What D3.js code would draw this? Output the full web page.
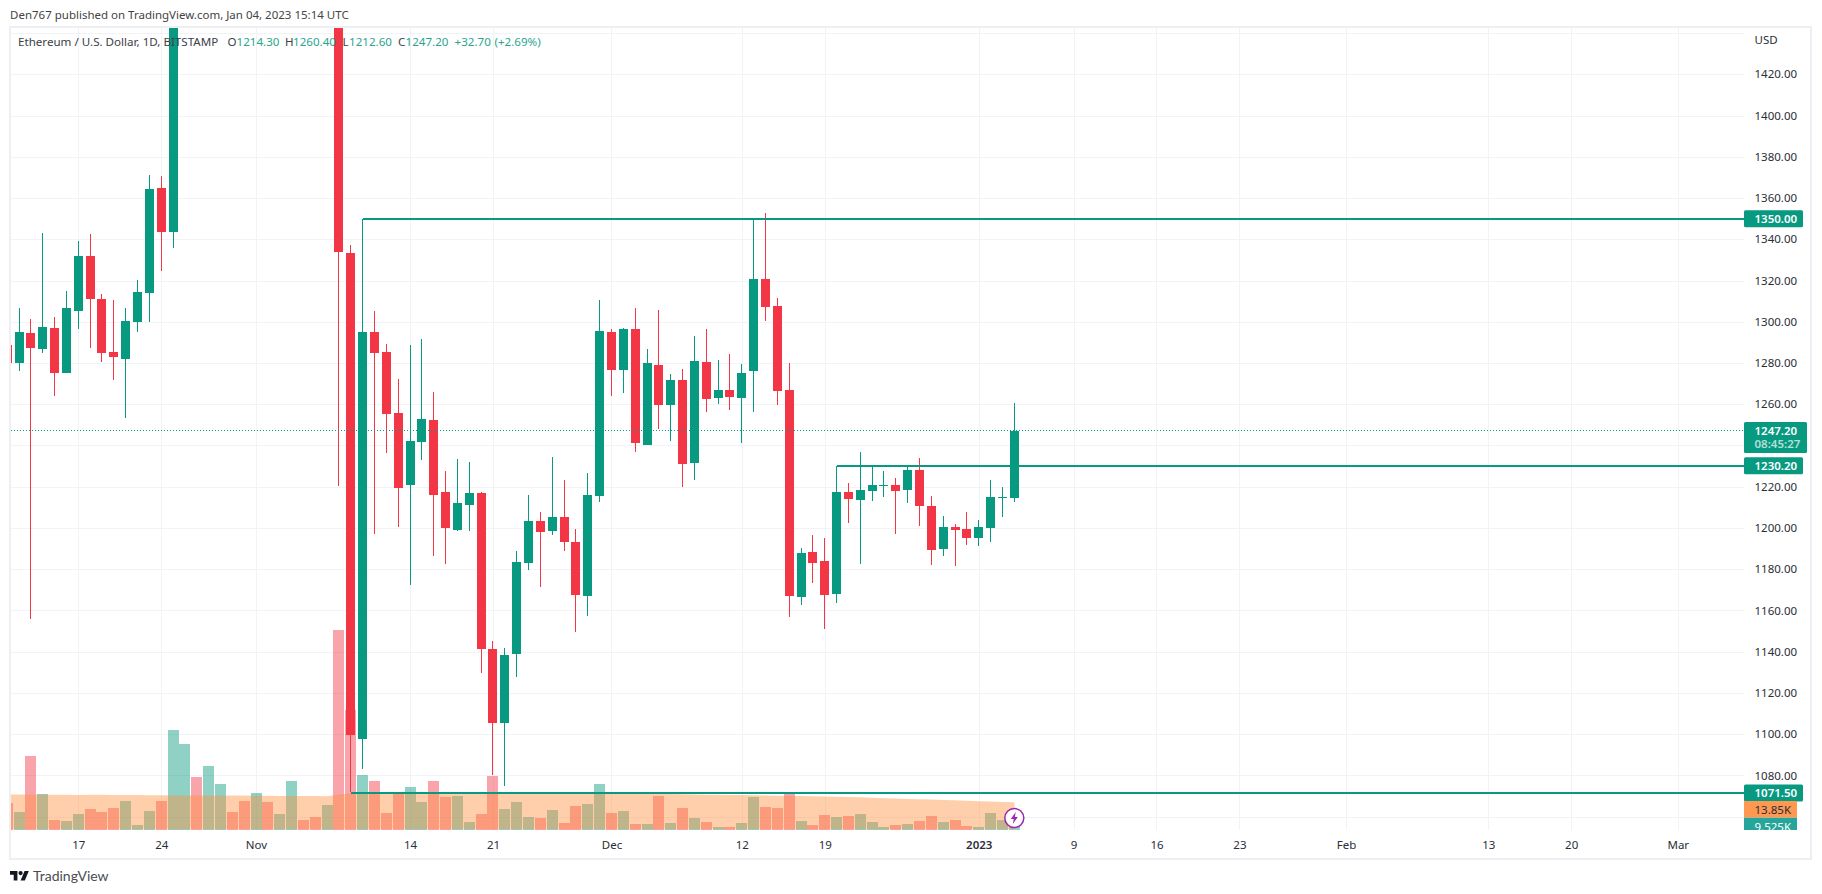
<!DOCTYPE html>
<html>
<head>
<meta charset="utf-8">
<title>ETH / USD</title>
<script src="https://cdn.jsdelivr.net/npm/d3@7/dist/d3.min.js"></script>
<style>
  html, body { margin: 0; padding: 0; background: #fff; overflow: hidden; }
  text { font-family: "Noto Sans", sans-serif; }
</style>
</head>
<body>
<div id="chart"></div>
<script>
// one entry per day, 2022-10-11 .. 2023-01-04. Days 2022-10-26 .. 2022-11-07 sit above the visible pane, rough guesses
const openPrices = [1288.7,1280,1294.5,1286.8,1297,1275.1,1305.2,1331.9,1311,1285.3,1281.9,1299.9,1314,1364.9,1343.7,1462,1566,1515,1556,1620,1590,1572,1577,1520,1628,1645,1627,1550,1568,1333.3,1097.6,1295,1285.3,1255.7,1220.8,1241.7,1252.3,1217.4,1199,1211.1,1217,1141.3,1105.4,1138.9,1183,1203.4,1198.5,1205.3,1193.2,1167,1215.5,1295,1276.6,1296.5,1240.2,1279,1259.6,1271.7,1231.5,1280.5,1263,1266.9,1263,1276.1,1320.7,1307.6,1266.9,1166.5,1188.3,1184,1168,1217.4,1213.5,1217.9,1220.3,1220.8,1218.4,1228.1,1210.6,1189.8,1200.4,1199.5,1195.1,1200,1214.5,1214.3];
const highPrices = [1289,1306.7,1301.3,1343,1302.3,1315,1339.2,1342.6,1313.4,1310.5,1306.7,1320.2,1371.2,1370.7,1530,1590,1592,1570,1630,1635,1600,1600,1590,1640,1655,1660,1640,1600,1590,1337.2,1350,1305.2,1289.2,1272.2,1288.7,1291.6,1265.9,1227.6,1233.4,1232,1217.5,1145.2,1141.8,1188.8,1216,1207.7,1234.4,1223.2,1199.5,1226.6,1310.5,1296.5,1297,1306.7,1286.8,1305.7,1274.6,1277,1293,1296.5,1281.4,1284.4,1279.5,1349.8,1352.7,1311.5,1280,1190.3,1196.6,1195.1,1230.2,1221.8,1236.8,1230.5,1227.6,1224.2,1230.5,1233.9,1215.5,1205.8,1201.9,1207.7,1203.8,1223.2,1219.9,1260.4];
const lowPrices = [1280,1276.3,1155.6,1285,1264,1275,1296.5,1287.3,1280.5,1271.7,1253.3,1295,1299.9,1324.6,1335.9,1455,1510,1500,1545,1585,1560,1560,1510,1515,1620,1620,1605,1540,1220.5,1072,1083.1,1197,1236.3,1200.4,1172.3,1233,1186.4,1182.5,1198.5,1198.5,1129.6,1080.2,1074.9,1127.7,1179.6,1171.3,1196.6,1188.8,1149.5,1157.3,1212.6,1264,1265.4,1236.8,1240.2,1248,1242.1,1219.8,1223.2,1256.2,1260.1,1257.2,1241.2,1256.2,1300.4,1259.6,1156.8,1162.6,1173.3,1151,1163.6,1202.4,1182.5,1213,1215,1197,1212,1200.9,1182,1186.4,1181.5,1191.7,1191.2,1193.2,1205.3,1212.6];
const closePrices = [1280,1295,1287.3,1297.4,1275.1,1306.7,1331.9,1311,1284.8,1282.9,1300.4,1314.4,1364.4,1343.7,1462,1566,1515,1556,1620,1590,1572,1577,1520,1628,1645,1627,1612,1568,1334,1099.6,1295,1284.8,1255.2,1219.4,1242.2,1252.8,1216,1200,1212.1,1217,1141.3,1105.4,1138.4,1183.5,1203.4,1198,1205.3,1193.2,1167.5,1216,1295.5,1276.6,1296.5,1241.2,1280,1259.6,1271.7,1231,1281,1262.5,1266.9,1263.5,1275.1,1320.7,1307.1,1266.4,1167,1187.8,1183,1167.5,1217.4,1214,1218.4,1220.8,1220.8,1217.9,1228.1,1210.6,1189.3,1200.4,1199,1195.1,1200.4,1215,1215,1247.2];
const volumes = [13.5,9.1,36.8,18,5.1,4.6,8.1,10.6,9.1,11.1,14.5,2.6,9.6,14.5,49.7,42.7,26.4,31.8,22.9,9.1,14.5,18.5,14,8.1,24.4,5.1,6.6,12.5,99,59.5,27.4,24.4,8.6,19.1,21.5,14,24.4,16.5,17,4.1,8.1,26.9,10.6,14,6.6,6.1,10.1,3.6,12,13,22.9,8.6,9.6,3.1,3.1,17,3.6,11.1,6.1,4.1,1.7,1.7,3.6,16.5,11.6,11.1,18.5,4.6,2.6,7.6,6.6,7.1,8.1,4.1,1.7,2.6,3.1,4.6,7.1,4.1,5.1,2.1,1.7,8.6,5.1,9.525];
const volumeMa = [17.7,17.7,17.6,17.6,17.6,17.6,17.5,17.6,17.6,17.5,17.5,17.4,17.3,17.3,17.2,17.2,17.2,17.2,17.2,17.2,17.2,17.1,17.1,17,17,16.9,16.9,16.8,17.7,18.3,18.4,18.4,18.4,18.4,18.4,18.4,18.4,18.4,18.4,18.4,18.4,18.4,18.4,18.4,18.4,18.4,18.4,18.4,18.4,18.4,18.3,18.3,18.2,18.2,18.1,18,17.9,17.8,17.7,17.6,17.6,17.5,17.4,17.3,17.2,17.1,17,16.9,16.8,16.7,16.6,16.5,16.3,16.1,15.9,15.7,15.5,15.3,15.2,15,14.8,14.6,14.4,14.2,14,13.85];

const priceTicks = [1080,1100,1120,1140,1160,1180,1200,1220,1240,1260,1280,1300,1320,1340,1360,1380,1400,1420];
const priceGrid = [1060].concat(priceTicks, [1440]);
const timeTicks = ["2022-10-17","2022-10-24","2022-11-01","2022-11-14","2022-11-21","2022-12-01","2022-12-12","2022-12-19","2023-01-01","2023-01-09","2023-01-16","2023-01-23","2023-02-01","2023-02-13","2023-02-20","2023-03-01"];
const timeLabels = ["17","24","Nov","14","21","Dec","12","19","2023","9","16","23","Feb","13","20","Mar"];
const levels = [1350, 1230.2, 1071.5];
const levelStarts = ["2022-11-10", "2022-12-20", "2022-11-09"];

const up = "#089981", down = "#f23645", gridColor = "#f1f3f6", textColor = "#2a2e39";
const W = 1822, H = 894;
const pane = { left: 11, top: 28, right: 1744, bottom: 830 };

const parseDay = d3.utcParse("%Y-%m-%d");
const days = d3.utcDay.range(parseDay("2022-10-11"), parseDay("2023-01-05"));
const candles = days.map((d, i) => ({ date: d, o: openPrices[i], h: highPrices[i], l: lowPrices[i], c: closePrices[i], v: volumes[i], ma: volumeMa[i] }));

const x = d3.scaleUtc().domain([parseDay("2022-10-17"), parseDay("2023-01-04")]).range([78.3, 1014.3]);
const y = d3.scaleLinear().domain([1220, 1420]).range([486.7, 74.3]);
const yVol = d3.scaleLinear().domain([0, 99]).range([830.3, 630]);

const svg = d3.select("#chart").append("svg").attr("width", W).attr("height", H).style("display", "block");
svg.append("defs").append("clipPath").attr("id", "pane").append("rect")
    .attr("x", pane.left).attr("y", pane.top).attr("width", pane.right - pane.left).attr("height", pane.bottom - pane.top);
svg.append("defs").append("clipPath").attr("id", "labels").append("rect")
    .attr("x", pane.right).attr("y", pane.top).attr("width", 70).attr("height", pane.bottom - pane.top);

svg.append("text").attr("x", 10).attr("y", 19).attr("font-size", 11.5).attr("fill", "#444").text("Den767 published on TradingView.com, Jan 04, 2023 15:14 UTC");
svg.append("rect").attr("x", 10).attr("y", 27).attr("width", 1801).attr("height", 832)
    .attr("fill", "none").attr("stroke", "#eeeff4").attr("stroke-width", 2);

// grid, through the axes so the lines land on the tick values
const gridX = svg.append("g").attr("transform", `translate(0,${pane.bottom})`)
    .call(d3.axisBottom(x).tickValues(timeTicks.map(parseDay)).tickSize(-(pane.bottom - pane.top)).tickFormat(""));
const gridY = svg.append("g").attr("transform", `translate(${pane.right},0)`)
    .call(d3.axisLeft(y).tickValues(priceGrid).tickSize(pane.right - pane.left).tickFormat(""));
[gridX, gridY].forEach((g) => {
    g.select(".domain").remove();
    g.selectAll("line").attr("stroke", gridColor).attr("stroke-width", 1).attr("shape-rendering", "crispEdges");
});

const chart = svg.append("g").attr("clip-path", "url(#pane)");

// volume bars, then the MA area over them
chart.append("g").attr("shape-rendering", "crispEdges").selectAll("rect").data(candles).join("rect")
    .attr("x", (d) => Math.round(x(d.date) - 5.5))
    .attr("width", 11)
    .attr("y", (d) => yVol(d.v))
    .attr("height", (d) => yVol(0) - yVol(d.v))
    .attr("fill", (d) => (d.c >= d.o ? up : down))
    .attr("fill-opacity", 0.45);

chart.append("path").datum(candles)
    .attr("fill", "rgb(255,143,60)").attr("fill-opacity", 0.43)
    .attr("d", d3.area().x((d) => x(d.date)).y0(yVol(0) - 1).y1((d) => yVol(d.ma)));

const candle = chart.append("g").attr("shape-rendering", "crispEdges").selectAll("g").data(candles).join("g")
    .attr("fill", (d) => (d.c >= d.o ? up : down));
candle.append("rect")
    .attr("x", (d) => Math.round(x(d.date) - 0.5)).attr("width", 1)
    .attr("y", (d) => y(d.h)).attr("height", (d) => y(d.l) - y(d.h));
candle.append("rect")
    .attr("x", (d) => Math.round(x(d.date) - 4.5)).attr("width", 9)
    .attr("y", (d) => y(Math.max(d.o, d.c)))
    .attr("height", (d) => Math.max(1, Math.abs(y(d.o) - y(d.c))));

// last price dotted line and the drawn levels
const lastPrice = closePrices[closePrices.length - 1];
chart.append("line").attr("x1", pane.left).attr("x2", pane.right).attr("y1", y(lastPrice)).attr("y2", y(lastPrice))
    .attr("stroke", up).attr("stroke-width", 1).attr("stroke-dasharray", "1 2").attr("shape-rendering", "crispEdges");
chart.append("g").attr("shape-rendering", "crispEdges").selectAll("line").data(levels).join("line")
    .attr("x1", (d, i) => x(parseDay(levelStarts[i]))).attr("x2", pane.right)
    .attr("y1", (d) => Math.round(y(d))).attr("y2", (d) => Math.round(y(d)))
    .attr("stroke", up).attr("stroke-width", 2);

// header line sits over the candles
const header = svg.append("g").attr("font-size", 11.6);
const headerY = 45.5, soft = "#2ba48f";
[[18, "Ethereum / U.S. Dollar, 1D, BITSTAMP", "#3c4049"], [227.5, "O", "#3c4049"], [236.5, "1214.30", soft],
 [285, "H", "#3c4049"], [293, "1260.40", soft], [342.5, "L", "#3c4049"], [349, "1212.60", soft],
 [398, "C", "#3c4049"], [405.5, "1247.20", soft], [454.5, "+32.70", soft], [494.5, "(+2.69%)", soft]]
    .forEach(([px, s, c]) => header.append("text").attr("x", px).attr("y", headerY).attr("fill", c).text(s));

// price axis
const axisY = svg.append("g").attr("transform", `translate(${pane.right},0)`)
    .call(d3.axisRight(y).tickValues(priceTicks).tickSize(0).tickPadding(10.5).tickFormat(d3.format(".2f")));
axisY.select(".domain").remove();
axisY.selectAll("text").attr("font-size", 11.5).attr("fill", textColor).style("font-family", '"Noto Sans", sans-serif');
svg.append("text").attr("x", pane.right + 10.5).attr("y", 44).attr("font-size", 11.5).attr("fill", textColor).text("USD");

// time axis
const axisX = svg.append("g").attr("transform", `translate(0,${pane.bottom})`)
    .call(d3.axisBottom(x).tickValues(timeTicks.map(parseDay)).tickSize(0).tickPadding(11)
        .tickFormat((d, i) => timeLabels[i]));
axisX.select(".domain").remove();
axisX.selectAll("text").attr("font-size", 11.5).attr("fill", textColor).style("font-family", '"Noto Sans", sans-serif')
    .attr("font-weight", (d, i) => (timeLabels[i] === "2023" ? 600 : 400));

// price tags
function tag(parent, value, text, w, fill, color, hh) {
    const cy = y(value);
    parent.append("rect").attr("x", pane.right).attr("y", cy - 8.5).attr("width", w).attr("height", hh || 17)
        .attr("rx", 1.5).attr("fill", fill);
    parent.append("text").attr("x", pane.right + 10.5).attr("y", cy + 4).attr("font-size", 11.5)
        .attr("font-weight", 600).attr("fill", color).text(text);
}
const tags = svg.append("g");
tag(tags, 1350, "1350.00", 59, up, "#fff");
tag(tags, 1230.2, "1230.20", 59, up, "#fff");
tag(tags, 1071.5, "1071.50", 59, up, "#fff");
tag(tags, lastPrice, "1247.20", 63, up, "#fff", 31);
tags.append("text").attr("x", pane.right + 10.5).attr("y", y(lastPrice) + 17.5).attr("font-size", 11.5)
    .attr("font-weight", 600).attr("fill", "#b5e0d8").text("08:45:27");

// volume tags are stacked under the 1071.50 tag and cut off by the pane
const volTags = svg.append("g").attr("clip-path", "url(#labels)");
volTags.append("rect").attr("x", pane.right).attr("y", 801).attr("width", 53).attr("height", 16.7).attr("fill", "#ff9850");
volTags.append("text").attr("x", pane.right + 10.5).attr("y", 813.5).attr("font-size", 11.5).attr("fill", "#2a2e39").text(d3.format(".2f")(volumeMa[volumeMa.length - 1]) + "K");
volTags.append("rect").attr("x", pane.right).attr("y", 817.7).attr("width", 53).attr("height", 17).attr("fill", "#26a69a");
volTags.append("text").attr("x", pane.right + 10.5).attr("y", 830.5).attr("font-size", 11.5).attr("fill", "#fff").text(d3.format(".3f")(volumes[volumes.length - 1]) + "K");

// bolt marker on the last bar
const bolt = svg.append("g").attr("transform", `translate(${x(days[days.length - 1])},818)`);
bolt.append("circle").attr("r", 9.5).attr("fill", "#fff").attr("stroke", "#9c27b0").attr("stroke-width", 1.5);
bolt.append("path").attr("d", "M1.5 -6 L-3.5 1 H-0.5 L-1.5 6 L3.5 -1 H0.5 Z").attr("fill", "#9c27b0");

// logo
const logo = svg.append("g").attr("transform", "translate(10,867.8) scale(0.53)").attr("fill", "#131722");
logo.append("path").attr("d", "M14 6H0v7h7v11h7V6Z");
logo.append("path").attr("d", "M28 24h-8l7.5-18h8L28 24Z");
logo.append("circle").attr("cx", 20).attr("cy", 10).attr("r", 4);
svg.append("text").attr("x", 33).attr("y", 881).attr("font-size", 14).attr("fill", "#4a4d55").style("font-family", "Lato, sans-serif").text("TradingView");
</script>
</body>
</html>
